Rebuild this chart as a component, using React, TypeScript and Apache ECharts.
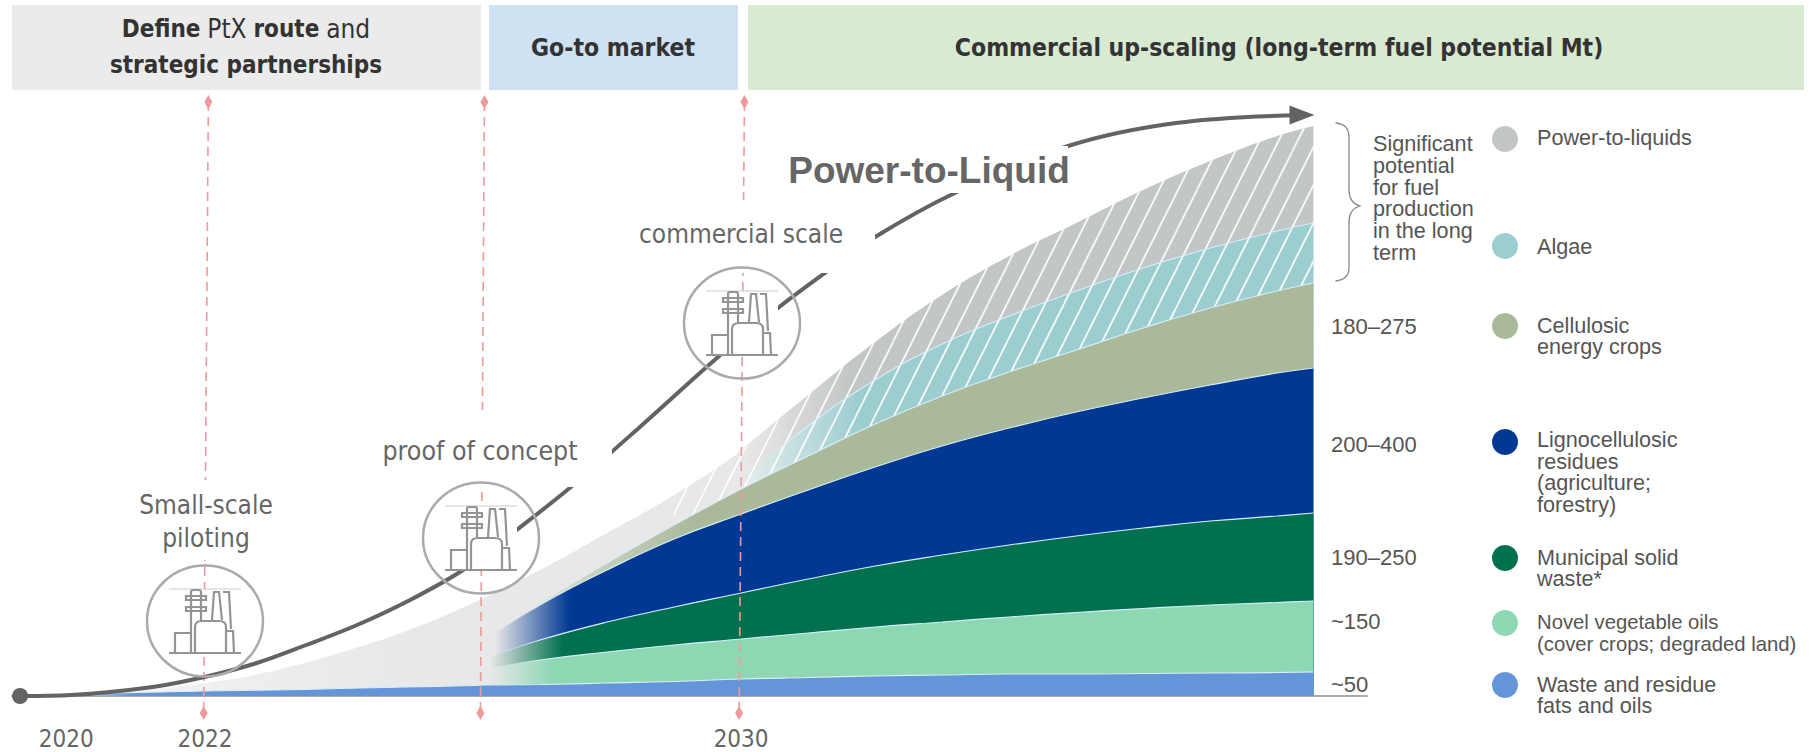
import React, { useEffect, useRef } from "react";
import * as echarts from "echarts";

// ---------- data (years on x, long-term fuel potential in Mt on y) ----------
const years = [2020.3, 2021, 2022, 2023, 2024, 2025, 2026, 2026.2, 2027, 2028, 2029, 2030, 2031, 2032, 2033, 2034, 2035, 2036, 2037, 2038, 2038.54];
const waste = [6, 7, 10, 12, 15, 18, 21, 22, 23, 26, 29, 34, 37, 40, 42, 44, 44, 45, 46, 47, 48];
const novel = [0, 0, 0, 0, 0, 0, 0, 32, 49, 62, 73, 80, 89, 98, 106, 114, 123, 130, 136, 140, 142];
const municipal = [0, 0, 0, 0, 0, 0, 0, 22, 40, 60, 76, 92, 108, 122, 134, 144, 153, 161, 168, 173, 176];
const ligno = [0, 0, 0, 0, 0, 0, 0, 38, 70, 104, 136, 158, 178, 198, 218, 234, 248, 260, 272, 286, 290];
const cellulosic = [0, 0, 0, 0, 0, 0, 0, 0, 2, 14, 28, 50, 68, 86, 100, 112, 124, 140, 154, 164, 170];
const algae = [0, 0, 0, 0, 0, 0, 0, 0, 0, 0, 0, 12, 60, 88, 104, 112, 118, 120, 120, 120, 120];
const ptl = [0, 0, 0, 0, 0, 0, 0, 0, 0, 0, 0, 66, 62, 76, 98, 120, 136, 156, 174, 190, 194];
const envelopeYears = [2020.3, 2021, 2022, 2023, 2024, 2025, 2026, 2027, 2028, 2029, 2030, 2031];
const envelope = [6, 12, 26, 50, 86, 130, 186, 252, 326, 402, 490, 590];
const pathYears = [2019.24, 2020, 2021.22, 2021.99, 2022.75, 2023.51, 2024.27, 2025.03, 2025.84, 2026.63, 2027.46, 2028.49, 2029.69, 2030.55, 2031.25, 2032, 2033.19, 2034.88, 2036.49, 2038.37];
const pathValues = [0, 2, 18, 38, 65, 102, 142, 190, 251, 330, 418, 538, 682, 776, 846, 918, 1006, 1100, 1146, 1162];
const milestoneTop = [2022.05, 2026.17, 2030.05];
const milestoneBottom = [2021.98, 2026.11, 2029.97];
const milestoneValues = [1188, -34];
const tickLabels = [2020, 2022, 2030];
const tickPositions = [2019.93, 2022, 2030];
const rangeLabels = ["180–275", "200–400", "190–250", "~150", "~50"];
const legendNames = [
  "Power-to-liquids",
  "Algae",
  "Cellulosic\nenergy crops",
  "Lignocellulosic\nresidues\n(agriculture;\nforestry)",
  "Municipal solid\nwaste*",
  "Novel vegetable oils\n(cover crops; degraded land)",
  "Waste and residue\nfats and oils",
];
const legendColors = ["#c3c6c7", "#9ccdd0", "#a9b99a", "#003893", "#00704e", "#8dd7b3", "#6595d9"];

// ---------- shapes ----------
const FACTORY =
  "M0 64L72 64M6 64L6 44L22 44M22 64L22 3Q22 1 24 1L30 1Q32 1 32 3L32 33M17 7L37 7L37 11L17 11ZM17 18L37 18L37 22L17 22ZM26 64L26 38Q26 32 33 32L50 32Q57 32 57 38L57 64M43 31L45 3L50 3L53 31M54 3L60 3L62 40M57 42L64 42L65 64";
echarts.graphic.registerShape("factoryIcon", echarts.graphic.extendPath(FACTORY, {}));
const BRACE = "M1335.5 123C1345 124 1349 128 1349 138L1349 190C1349 198 1353 204 1360 206C1353 208 1349 214 1349 222L1349 268C1349 276 1345 280 1335.5 281";
echarts.graphic.registerShape("sideBrace", echarts.graphic.extendPath(BRACE, {}));

const COND = '"DejaVu Sans Condensed", "DejaVu Sans", sans-serif';
const HELV = '"Liberation Sans", Arial, sans-serif';
const HAZE = "#e8e8e8";
const TILE_W = 19;
const TILE_H = 38;

function gradient(x: number, x2: number, from: string, to: string) {
  return { type: "linear", x, y: 0, x2, y2: 0, global: true, colorStops: [{ offset: 0, color: from }, { offset: 1, color: to }] };
}

function stripes() {
  const c = document.createElement("canvas");
  c.width = TILE_W;
  c.height = TILE_H;
  const g = c.getContext("2d")!;
  g.strokeStyle = "rgba(255,255,255,0.95)";
  g.lineWidth = 1.7;
  for (const dx of [-TILE_W, 0, TILE_W]) {
    g.beginPath();
    g.moveTo(dx, TILE_H);
    g.lineTo(dx + TILE_W, 0);
    g.stroke();
  }
  return c;
}

function rect(x: number, y: number, width: number, height: number, fill: string, z = 10) {
  return { type: "rect", z, shape: { x, y, width, height }, style: { fill } };
}
function text(t: string, x: number, y: number, size: number, family: string, fill: string, extra: any = {}) {
  return {
    type: "text",
    z: 12,
    x,
    y,
    style: { text: t, fontSize: size, fontFamily: family, fill, textAlign: "center", textVerticalAlign: "middle", align: "center", verticalAlign: "middle", ...extra },
  };
}
function factory(cx: number, cy: number) {
  return [
    { type: "ellipse", z: 11, shape: { cx, cy, rx: 58, ry: 55.5 }, style: { fill: "none", stroke: "#aaaaaa", lineWidth: 2.5 } },
    rect(cx - 36, cy - 32, 72, 65, "#ffffff", 11),
    { type: "line", z: 11, shape: { x1: cx - 36, y1: cy - 32, x2: cx + 36, y2: cy - 32 }, style: { stroke: "#cccccc", lineWidth: 1 } },
    { type: "factoryIcon", z: 12, x: cx - 36, y: cy - 32, style: { fill: "none", stroke: "#949494", lineWidth: 2.2 } },
  ];
}

export default function App() {
  const ref = useRef<HTMLDivElement>(null);
  useEffect(() => {
    const chart = echarts.init(ref.current!, null, { renderer: "svg" });
    // Running totals, so that each band's top can be painted back to front.
    const layers = [waste, novel, municipal, ligno, cellulosic, algae, ptl];
    const totals = layers.map((_, k) => years.map((_y, i) => layers.slice(0, k + 1).reduce((s, l) => s + l[i], 0)));
    const area = (name: string, k: number, start: number, color: any, lineFrom: number | null) => ({
      name,
      type: "line",
      smooth: 0.45,
      symbol: "none",
      lineStyle:
        lineFrom === null
          ? { width: 1.2, color: "#d8eef8" }
          : { width: 1.2, color: gradient(lineFrom, lineFrom + 50, "rgba(216,238,248,0)", "#d8eef8") },
      areaStyle: { color, opacity: 1 },
      data: years.slice(start).map((y, i) => [y, totals[k][i + start]]),
    });
    const pattern = stripes();
    const hatchData = years.slice(10).map((y, i) => [y, i === 0 ? envelope[9] : totals[6][i + 10]]);

    const milestones = milestoneTop.map((y, i) => ({
      name: "milestone" + i,
      type: "line",
      clip: false,
      silent: true,
      symbol: "diamond",
      symbolSize: [8, 14],
      itemStyle: { color: "#ee9a9a" },
      lineStyle: { color: "#ee9a9a", width: 1.6, type: [9, 6] },
      data: [[y, milestoneValues[0]], [milestoneBottom[i], milestoneValues[1]]],
    }));

    const legendYs = [139, 246, 326, 442, 558, 623, 685];
    const legendTextYs = [137, 246, 336, 472, 568, 633, 695];
    const legendSizes = [21.6, 21.6, 21.6, 21.6, 21.6, 20.3, 21.6];
    const rangeYs = [326, 444, 557, 621, 684];

    const graphics: any[] = [
      rect(12, 5, 469, 85, "#ebebeb", 9),
      rect(489, 5, 249, 85, "#cfe2f3", 9),
      rect(748, 5, 1056, 85, "#d9ead3", 9),
      text("{b|Define} {r|PtX} {b|route} {r|and}\n{b|strategic partnerships}", 246, 47, 24, COND, "#333333", {
        lineHeight: 36,
        rich: {
          b: { fontSize: 24, fontFamily: COND, fontWeight: "bold", fill: "#333333", lineHeight: 36 },
          r: { fontSize: 26, fontFamily: COND, fill: "#333333", lineHeight: 36 },
        },
      }),
      text("Go-to market", 613, 47, 24.5, COND, "#333333", { fontWeight: "bold" }),
      text("Commercial up-scaling (long-term fuel potential Mt)", 1279, 47, 24.5, COND, "#333333", { fontWeight: "bold" }),
      // label knock-outs
      rect(130, 480, 150, 80, "#ffffff"),
      rect(370, 410, 242, 77, "#ffffff"),
      rect(632, 200, 243, 73, "#ffffff"),
      rect(785, 146, 283, 47, "#ffffff"),
      rect(1316, 700, 8, 14, "#ffffff"),
      text("Small-scale\npiloting", 206, 521, 26, COND, "#666666", { lineHeight: 33 }),
      text("proof of concept", 480, 450, 26.5, COND, "#666666"),
      text("commercial scale", 741, 234, 26, COND, "#666666"),
      text("Power-to-Liquid", 929, 170, 37, HELV, "#666666", { fontWeight: "bold" }),
      ...factory(205, 621),
      ...factory(481, 538),
      ...factory(742, 323),
      { type: "sideBrace", z: 12, x: 0, y: 0, style: { fill: "none", stroke: "#888888", lineWidth: 1.3 } },
      text("Significant\npotential\nfor fuel\nproduction\nin the long\nterm", 1373, 198, 21.6, HELV, "#555555", { textAlign: "left", align: "left", lineHeight: 21.7 }),
      ...rangeLabels.map((t, i) => text(t, 1331, rangeYs[i], 22, HELV, "#555555", { textAlign: "left", align: "left" })),
      ...legendNames.map((t, i) => ({
        type: "circle",
        z: 12,
        shape: { cx: 1505, cy: legendYs[i], r: 13 },
        style: { fill: legendColors[i] },
      })),
      ...legendNames.map((t, i) =>
        text(t, 1537, legendTextYs[i], legendSizes[i], HELV, "#555555", { textAlign: "left", align: "left", lineHeight: 21.7 })
      ),
    ];

    chart.setOption({
      animation: false,
      grid: { left: 12, right: 449, top: 100, bottom: 44 },
      xAxis: {
        type: "value",
        min: 2019.12,
        max: 2039.34,
        splitLine: { show: false },
        axisTick: { show: false },
        axisLine: { show: true, lineStyle: { color: "#aaaaaa", width: 2 } },
        axisLabel: {
          show: true,
          customValues: tickPositions,
          formatter: (v: number) => String(tickLabels[tickPositions.indexOf(v)]),
          fontFamily: COND,
          fontSize: 24,
          color: "#666666",
          margin: 19,
        },
      },
      yAxis: { type: "value", min: -24, max: 1192, show: false },
      series: [
        {
          name: "Early development",
          type: "line",
          smooth: 0.45,
          symbol: "none",
          lineStyle: { width: 0 },
          areaStyle: { color: gradient(100, 420, "#f3f3f3", HAZE), opacity: 1 },
          data: envelopeYears.map((y, i) => [y, envelope[i]]),
        },
        { ...area("Power-to-liquids", 6, 11, gradient(745, 850, HAZE, "#c3c6c7"), 745), lineStyle: { width: 0 } },
        area("Algae", 5, 11, gradient(745, 860, "#e4ecec", "#9ccdd0"), 745),
        {
          name: "hatch",
          type: "line",
          smooth: 0.45,
          symbol: "none",
          lineStyle: { width: 0 },
          areaStyle: { opacity: 1, color: { image: pattern, repeat: "repeat", imageWidth: TILE_W, imageHeight: TILE_H } },
          data: hatchData,
        },
        area("Cellulosic energy crops", 4, 8, gradient(540, 700, "#d8ddd2", "#a9b99a"), 560),
        area("Lignocellulosic residues", 3, 7, gradient(495, 570, HAZE, "#003893"), 495),
        area("Municipal solid waste", 2, 7, gradient(490, 563, HAZE, "#00704e"), 490),
        area("Novel vegetable oils", 1, 7, gradient(490, 553, HAZE, "#8dd7b3"), 490),
        area("Waste and residue fats and oils", 0, 0, gradient(70, 130, "#cfe0f5", "#6595d9"), null),
        ...milestones,
        {
          name: "Power-to-Liquid path",
          type: "line",
          clip: false,
          smooth: 0.35,
          symbol: "circle",
          symbolSize: 0,
          showAllSymbol: true,
          lineStyle: { color: "#636363", width: 4 },
          itemStyle: { color: "#636363" },
          data: pathYears.map((y, i) => {
            if (i === 0) return { value: [y, pathValues[i]], symbol: "circle", symbolSize: 16 };
            if (i === pathYears.length - 1)
              return { value: [y, pathValues[i]], symbol: "triangle", symbolSize: [19, 25], symbolRotate: -90 };
            return { value: [y, pathValues[i]], symbol: "none" };
          }),
        },
      ],
      graphic: { elements: graphics },
    });
    return () => chart.dispose();
  }, []);
  return <div ref={ref} style={{ position: "absolute", left: 0, top: 0, width: 1816, height: 752, background: "#fff" }} />;
}
